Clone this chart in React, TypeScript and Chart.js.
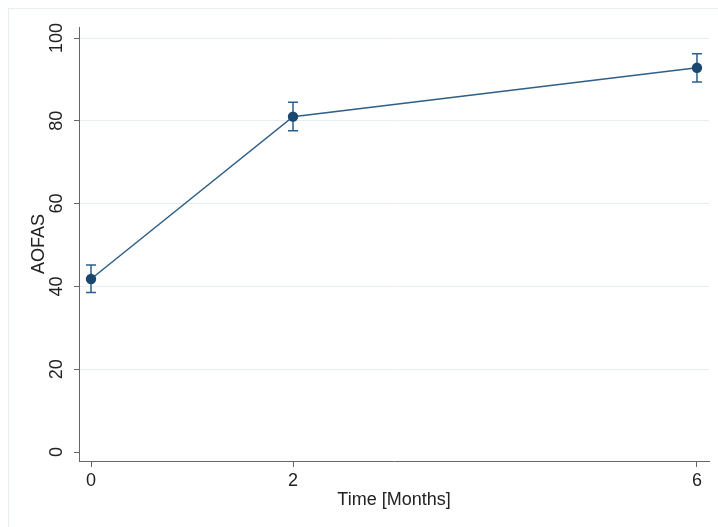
import React, { useEffect, useRef } from "react";
import { Chart, registerables } from "chart.js";

Chart.register(...registerables);

const months = [0, 2, 6];
const aofasMean = [41.8, 81.0, 92.8];
const aofasLow = [38.5, 77.6, 89.4];
const aofasHigh = [45.2, 84.5, 96.2];
const xTicks = [0, 2, 6];
const yTicks = [0, 20, 40, 60, 80, 100];

const FONT = "'Liberation Sans', Arial, Helvetica, sans-serif";

const framePlugin = {
  id: "frame",
  beforeDraw(chart: any) {
    const { ctx, width, height } = chart;
    ctx.save();
    ctx.fillStyle = "#ffffff";
    ctx.fillRect(0, 0, width, height);
    ctx.strokeStyle = "#e6eef0";
    ctx.lineWidth = 1;
    ctx.strokeRect(8.5, 8.5, width + 10, height + 10);
    ctx.restore();
  },
};

const errorBarPlugin = {
  id: "errorBars",
  afterDatasetsDraw(chart: any) {
    const { ctx, scales } = chart;
    const xs = scales.x;
    const ys = scales.y;
    ctx.save();
    ctx.strokeStyle = "#2f5f87";
    ctx.lineWidth = 1.5;
    const cap = 5;
    months.forEach((m, i) => {
      const px = xs.getPixelForValue(m);
      const top = ys.getPixelForValue(aofasHigh[i]);
      const bot = ys.getPixelForValue(aofasLow[i]);
      ctx.beginPath();
      ctx.moveTo(px, top);
      ctx.lineTo(px, bot);
      ctx.moveTo(px - cap, top);
      ctx.lineTo(px + cap, top);
      ctx.moveTo(px - cap, bot);
      ctx.lineTo(px + cap, bot);
      ctx.stroke();
    });
    // redraw markers on top
    ctx.fillStyle = "#1a476f";
    months.forEach((m, i) => {
      const px = xs.getPixelForValue(m);
      const py = ys.getPixelForValue(aofasMean[i]);
      ctx.beginPath();
      ctx.arc(px, py, 5.2, 0, Math.PI * 2);
      ctx.fill();
    });
    ctx.restore();
  },
};

export default function App() {
  const ref = useRef<HTMLCanvasElement | null>(null);
  useEffect(() => {
    if (!ref.current) return;
    const chart = new Chart(ref.current, {
      type: "scatter",
      data: {
        datasets: [
          {
            data: months.map((m, i) => ({ x: m, y: aofasMean[i] })),
            showLine: true,
            borderColor: "#2f5f87",
            borderWidth: 1.5,
            pointRadius: 0,
            pointBackgroundColor: "#1a476f",
          },
        ],
      },
      options: {
        animation: false,
        responsive: false,
        devicePixelRatio: 1,
        layout: { padding: { left: 0, right: 9, top: 27, bottom: 0 } },
        plugins: { legend: { display: false }, tooltip: { enabled: false } },
        scales: {
          x: {
            type: "linear",
            min: -0.119,
            max: 6.119,
            afterBuildTicks: (s: any) => {
              s.ticks = xTicks.map((v) => ({ value: v }));
            },
            afterFit: (s: any) => {
              s.height = 66;
            },
            grid: { drawOnChartArea: false, tickLength: 6, tickColor: "#666", color: "#666" },
            border: { display: true, color: "#666", width: 1 },
            ticks: {
              font: { family: FONT, size: 18 },
              color: "#222",
              padding: 3,
              maxRotation: 0,
              callback: (v: any) => String(v),
            },
            title: {
              display: true,
              text: "Time [Months]",
              font: { family: FONT, size: 18 },
              color: "#222",
              padding: { top: 0, bottom: 16 },
            },
          },
          y: {
            type: "linear",
            min: -2.17,
            max: 102.66,
            afterBuildTicks: (s: any) => {
              s.ticks = yTicks.map((v) => ({ value: v }));
            },
            afterFit: (s: any) => {
              s.width = 79;
            },
            grid: {
              drawOnChartArea: true,
              tickLength: 5,
              tickColor: "#666",
              color: (c: any) => (c.tick && c.tick.value === 0 ? "rgba(0,0,0,0)" : "#e6eef0"),
            },
            border: { display: true, color: "#666", width: 1 },
            ticks: {
              font: { family: FONT, size: 18 },
              color: "#222",
              padding: 2,
              minRotation: 90,
              maxRotation: 90,
              crossAlign: "center",
              callback: (v: any) => String(v),
            },
            title: {
              display: true,
              text: "AOFAS",
              font: { family: FONT, size: 18 },
              color: "#222",
              padding: { top: 28, bottom: 0 },
            },
          },
        },
      },
      plugins: [framePlugin, errorBarPlugin],
    } as any);
    return () => chart.destroy();
  }, []);
  return (
    <div style={{ position: "absolute", left: 0, top: 0, width: 718, height: 527 }}>
      <canvas ref={ref} width={718} height={527} />
    </div>
  );
}
